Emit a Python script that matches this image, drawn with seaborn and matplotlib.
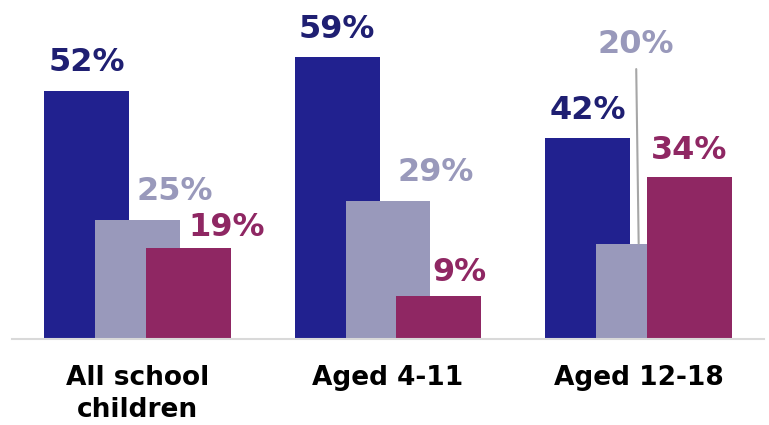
import numpy as np
import pandas as pd
import matplotlib
matplotlib.use("Agg")
import matplotlib.pyplot as plt
import seaborn as sns

# data
groups = ["All school\nchildren", "Aged 4-11", "Aged 12-18"]
series_a = [52, 59, 42]
series_b = [25, 29, 20]
series_c = [19, 9, 34]

bar_colors = ["#21218F", "#9999BB", "#8F2763"]
text_colors = ["#1F1F72", "#9999BB", "#8F2763"]

sns.set_theme(style="white")
plt.rcParams["font.family"] = ["DejaVu Sans"]

fig = plt.figure(figsize=(7.69, 4.25), dpi=100)
ax = fig.add_axes([12 / 769, 86 / 425, 752 / 769, 339 / 425])

base = np.arange(len(groups))
step = 0.203
width = 0.339
all_series = [series_a, series_b, series_c]

for i, vals in enumerate(all_series):
    xpos = base + (i - 1) * step
    df = pd.DataFrame({"x": xpos, "y": vals})
    sns.barplot(data=df, x="x", y="y", native_scale=True, width=width,
                color=bar_colors[i], saturation=1, ax=ax, errorbar=None,
                linewidth=0)

# label offsets in points (dx, dy) from the top centre of each bar
offsets = [
    [(0, 14), (0, 14), (0, 14)],
    [(27, 14), (34, 14), (-2, 137)],
    [(28, 9), (15, 11), (0, 13)],
]

for i, vals in enumerate(all_series):
    for g, v in enumerate(vals):
        dx, dy = offsets[i][g]
        xp = base[g] + (i - 1) * step
        kw = {}
        if dy > 100:
            kw["arrowprops"] = dict(arrowstyle="-", color="#A6A6A6", lw=1.5,
                                    shrinkA=4, shrinkB=0)
        ax.annotate(f"{v}%", xy=(xp, v), xytext=(dx, dy), textcoords="offset points",
                    ha="center", va="baseline", fontsize=23, fontweight="bold",
                    color=text_colors[i], **kw)

ax.set_xlim(-0.5, 2.5)
ax.set_ylim(0, 71)
ax.set_xticks(base)
ax.set_xticklabels(groups, fontsize=19, fontweight="bold", color="black",
                   linespacing=1.3)
ax.tick_params(axis="x", length=0, pad=19)
ax.set_yticks([])
ax.set_xlabel("")
ax.set_ylabel("")
for s in ["top", "right", "left"]:
    ax.spines[s].set_visible(False)
ax.spines["bottom"].set_color("#D9D9D9")
ax.spines["bottom"].set_linewidth(1.5)

fig.savefig("out.png", dpi=100)
